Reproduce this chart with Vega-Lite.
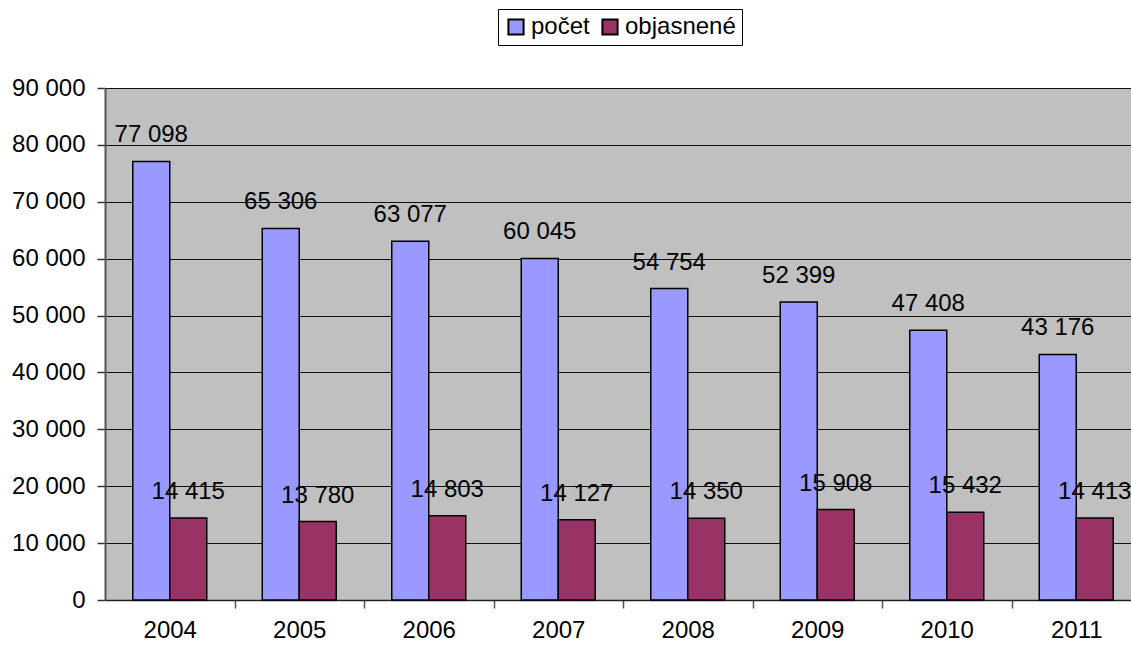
{
  "$schema": "https://vega.github.io/schema/vega-lite/v6.json",
  "autosize": "none",
  "width": 1026,
  "height": 512,
  "padding": {"left": 105, "top": 88, "right": 0, "bottom": 46},
  "background": "white",
  "config": {
    "font": "Liberation Sans",
    "view": {"fill": "#C0C0C0", "stroke": null}
  },
  "data": {
    "values": [
      {"year": "2004", "series": "počet", "value": 77098},
      {"year": "2004", "series": "objasnené", "value": 14415},
      {"year": "2005", "series": "počet", "value": 65306},
      {"year": "2005", "series": "objasnené", "value": 13780},
      {"year": "2006", "series": "počet", "value": 63077},
      {"year": "2006", "series": "objasnené", "value": 14803},
      {"year": "2007", "series": "počet", "value": 60045},
      {"year": "2007", "series": "objasnené", "value": 14127},
      {"year": "2008", "series": "počet", "value": 54754},
      {"year": "2008", "series": "objasnené", "value": 14350},
      {"year": "2009", "series": "počet", "value": 52399},
      {"year": "2009", "series": "objasnené", "value": 15908},
      {"year": "2010", "series": "počet", "value": 47408},
      {"year": "2010", "series": "objasnené", "value": 15432},
      {"year": "2011", "series": "počet", "value": 43176},
      {"year": "2011", "series": "objasnené", "value": 14413}
    ]
  },
  "encoding": {
    "x": {
      "field": "year", "type": "nominal",
      "scale": {"paddingInner": 0.4286, "paddingOuter": 0.1757, "align": 0.61},
      "axis": {
        "title": null, "labelAngle": 0, "labelFontSize": 24, "labelColor": "black",
        "labelPadding": 10, "tickOffset": 64.75, "labelOffset": -64.75, "tickSize": 8, "tickColor": "#555555",
        "domainColor": "#222222", "domainWidth": 1.5, "tickWidth": 1.5, "grid": false
      }
    },
    "xOffset": {"field": "series", "type": "nominal", "sort": ["počet", "objasnené"]},
    "y": {
      "field": "value", "type": "quantitative",
      "scale": {"domain": [0, 90000]},
      "axis": {
        "title": null, "values": [0, 10000, 20000, 30000, 40000, 50000, 60000, 70000, 80000, 90000],
        "labelExpr": "replace(format(datum.value, ','), ',', ' ')",
        "labelFontSize": 24, "labelColor": "black", "labelPadding": 12,
        "tickSize": 8, "tickColor": "#333333", "tickWidth": 1.5,
        "domainColor": "#555555", "domainWidth": 2,
        "grid": true, "gridColor": "#111111", "gridWidth": 1
      }
    }
  },
  "layer": [
    {
      "mark": {"type": "bar", "stroke": "black", "strokeWidth": 1.5},
      "encoding": {
        "color": {
          "field": "series", "type": "nominal",
          "scale": {"domain": ["počet", "objasnené"], "range": ["#9999FF", "#993366"]},
          "legend": {
            "title": null, "orient": "none", "direction": "horizontal",
            "legendX": 393, "legendY": -79,
            "labelFontSize": 24, "labelColor": "black", "labelFont": "Liberation Sans",
            "symbolType": "square", "symbolSize": 230, "symbolStrokeColor": "black",
            "symbolStrokeWidth": 2,
            "strokeColor": "black", "fillColor": "white",
            "padding": 6, "columnPadding": 8, "labelOffset": 3
          }
        }
      }
    },
    {
      "mark": {"type": "text", "fontSize": 24, "color": "black", "baseline": "alphabetic", "dy": -19},
      "encoding": {
        "text": {"field": "label", "type": "nominal"}
      },
      "transform": [{"calculate": "replace(format(datum.value, ','), ',', ' ')", "as": "label"}]
    }
  ]
}
